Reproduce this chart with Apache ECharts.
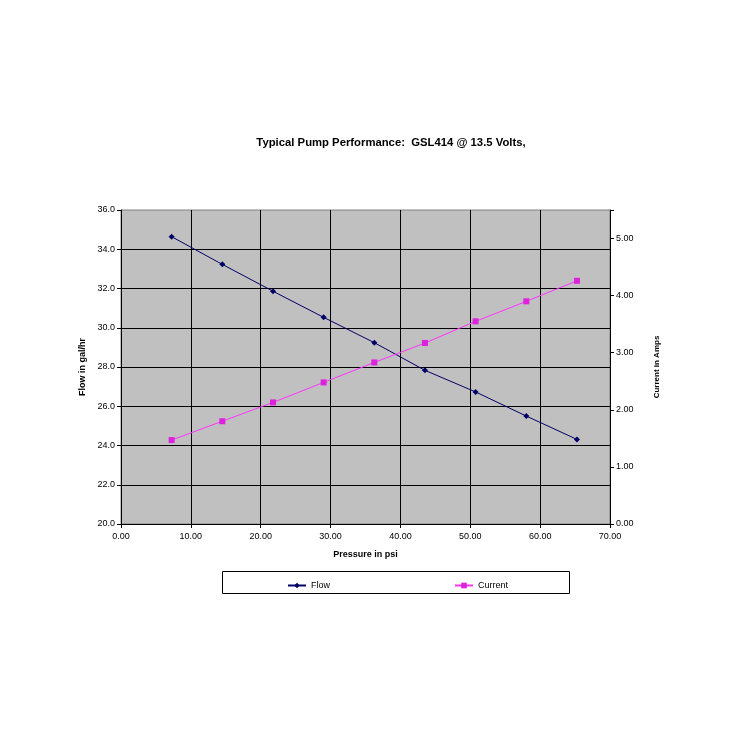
<!DOCTYPE html>
<html><head><meta charset="utf-8">
<script src="https://cdn.jsdelivr.net/npm/echarts@6/dist/echarts.min.js"></script>
<style>html,body{margin:0;padding:0;background:#fff}#c{width:739px;height:739px}</style>
</head><body><div id="c"></div>
<script>
const pressure = [7.25, 14.50, 21.76, 29.01, 36.26, 43.51, 50.76, 58.02, 65.27];
const flow = [34.64, 33.23, 31.86, 30.53, 29.24, 27.83, 26.73, 25.50, 24.31];
const current = [1.47, 1.80, 2.13, 2.48, 2.83, 3.17, 3.55, 3.90, 4.26];
const titleText = 'Typical Pump Performance:  GSL414 @ 13.5 Volts,';
const xName = 'Pressure in psi', yName = 'Flow in gal/hr', y2Name = 'Current in Amps';

const chart = echarts.init(document.getElementById('c'));
const F = 'Liberation Sans, Arial, sans-serif';
const lab = {fontFamily: F, fontSize: 9, color: '#000'};
chart.setOption({
  animation: false,
  backgroundColor: '#fff',
  title: {text: titleText, left: 386, textAlign: 'center', top: 132,
    textStyle: {fontFamily: F, fontSize: 11.3, fontWeight: 'bold', color: '#000'}},
  graphic: [{type: 'rect', shape: {x: 222.5, y: 571.5, width: 347, height: 22},
    style: {fill: '#fff', stroke: '#000', lineWidth: 1}, z: -1}],
  legend: {left: 282, top: 576, itemGap: 124, itemWidth: 18, itemHeight: 7,
    textStyle: {fontFamily: F, fontSize: 9, color: '#000'},
    data: ['Flow', 'Current']},
  grid: {left: 121, right: 129, top: 210, bottom: 215, show: true,
    backgroundColor: '#c0c0c0', borderColor: '#808080', borderWidth: 1},
  xAxis: {type: 'value', min: 0, max: 70, interval: 10, name: xName,
    nameLocation: 'middle', nameGap: 26,
    nameTextStyle: {fontFamily: F, fontSize: 9, fontWeight: 'bold', color: '#000'},
    axisLine: {show: true, lineStyle: {color: '#000'}},
    axisTick: {show: true, length: 4, lineStyle: {color: '#000'}},
    axisLabel: Object.assign({formatter: v => v.toFixed(2), margin: 8}, lab),
    splitLine: {show: true, showMinLine: false, showMaxLine: false, lineStyle: {color: '#000', width: 1}}},
  yAxis: [{type: 'value', min: 20, max: 36, interval: 2, name: yName,
    nameLocation: 'middle', nameGap: 30,
    nameTextStyle: {fontFamily: F, fontSize: 9, fontWeight: 'bold', color: '#000'},
    axisLine: {show: true, lineStyle: {color: '#000'}},
    axisTick: {show: true, length: 4, lineStyle: {color: '#000'}},
    axisLabel: Object.assign({formatter: v => v.toFixed(1), margin: 6}, lab),
    splitLine: {show: true, showMinLine: false, showMaxLine: false, lineStyle: {color: '#000', width: 1}}},
   {type: 'value', min: 0, max: 5.5, interval: 1, position: 'right', name: y2Name,
    nameLocation: 'middle', nameGap: 43,
    nameTextStyle: {fontFamily: F, fontSize: 8, fontWeight: 'bold', color: '#000'},
    axisLine: {show: true, lineStyle: {color: '#000'}},
    axisTick: {show: true, length: 4, lineStyle: {color: '#000'}},
    axisLabel: Object.assign({formatter: v => v > 5.2 ? '' : v.toFixed(2), margin: 6}, lab),
    splitLine: {show: false}}],
  series: [
    {name: 'Flow', type: 'line', yAxisIndex: 0, data: pressure.map((p, i) => [p, flow[i]]),
     symbol: 'diamond', symbolSize: 6, lineStyle: {color: '#000066', width: 1},
     itemStyle: {color: '#000066'}},
    {name: 'Current', type: 'line', yAxisIndex: 1, data: pressure.map((p, i) => [p, current[i]]),
     symbol: 'rect', symbolSize: 6, lineStyle: {color: '#ff33ff', width: 1},
     itemStyle: {color: '#dd22dd'}}
  ]
});
</script></body></html>
